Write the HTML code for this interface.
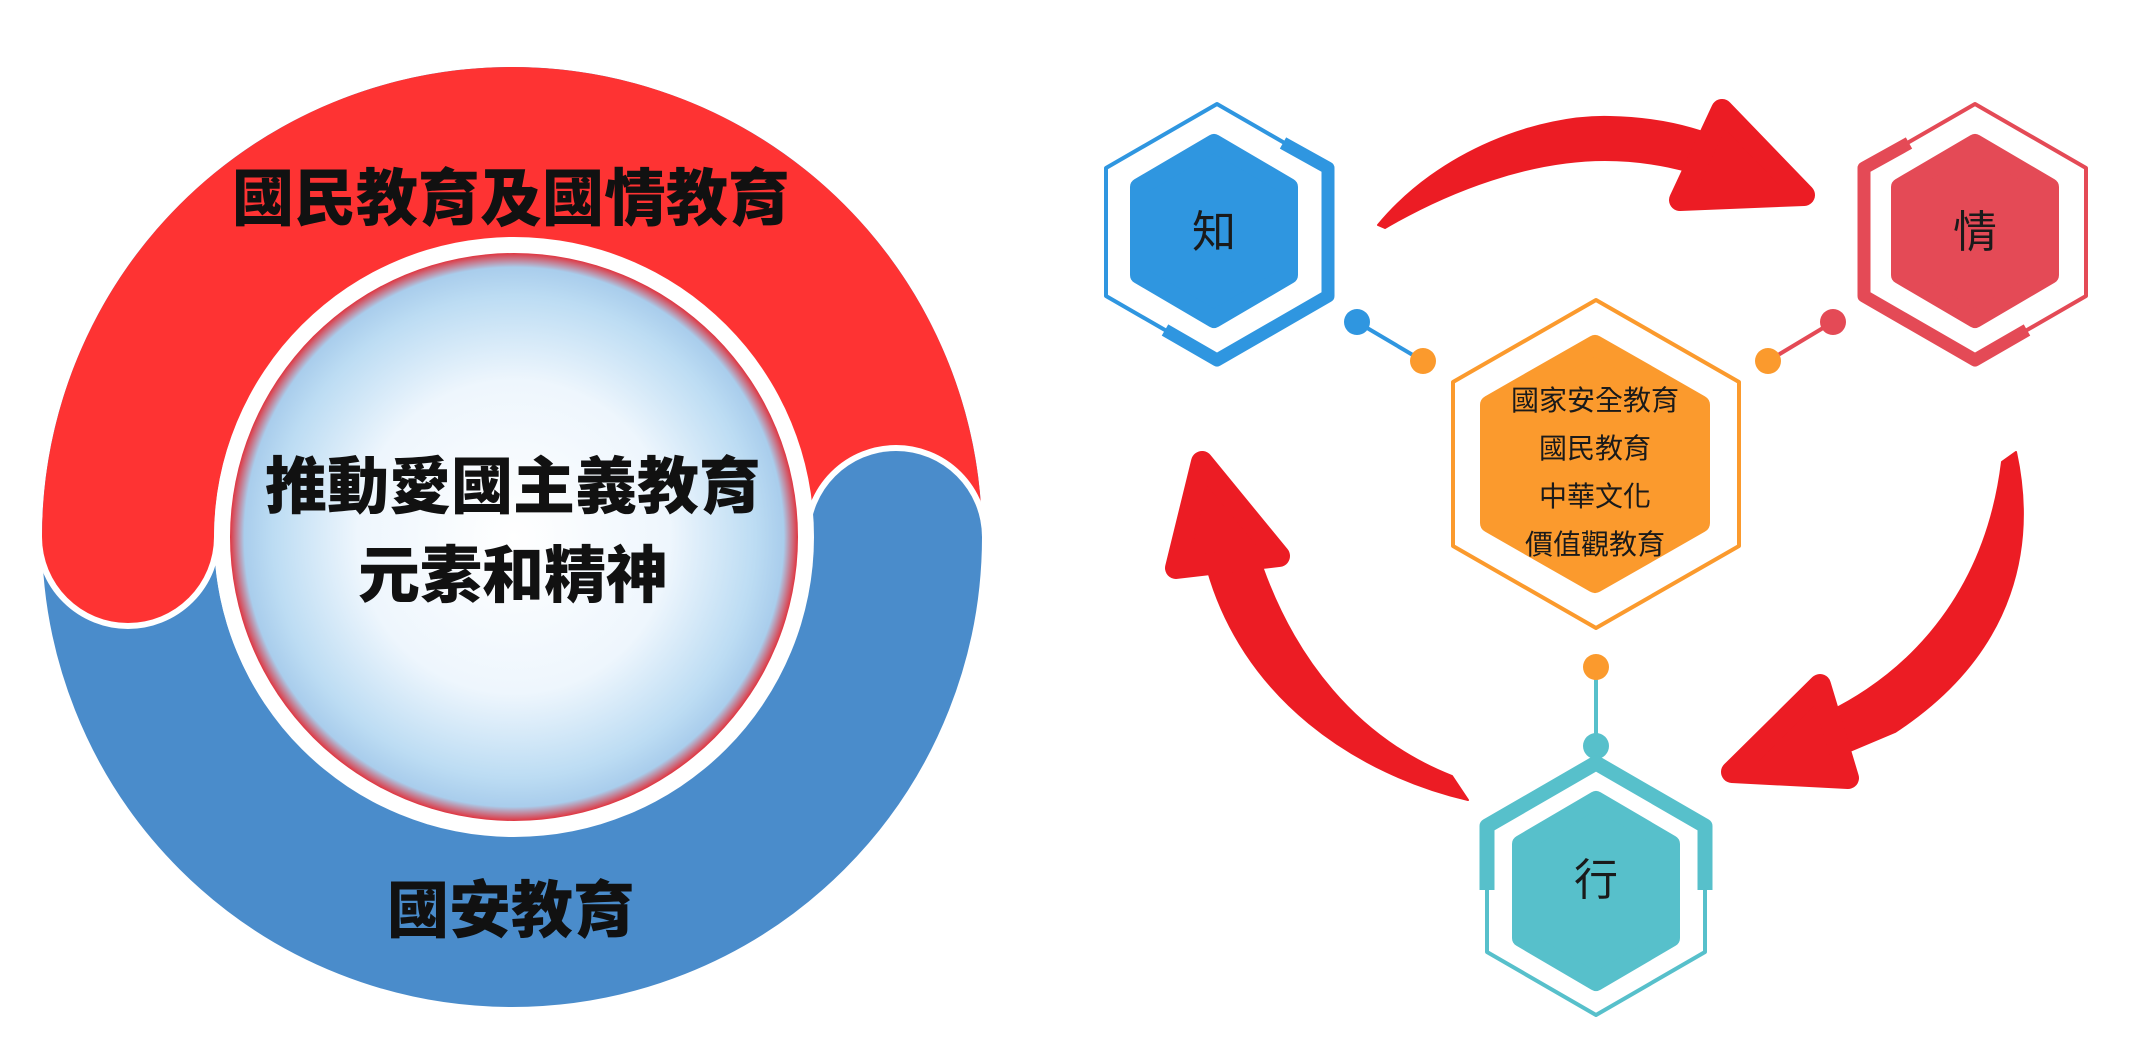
<!DOCTYPE html>
<html><head><meta charset="utf-8"><style>
html,body{margin:0;padding:0;background:#fff;}
svg{display:block;}
.b{font-family:"Liberation Sans","Noto Sans CJK TC","Noto Sans CJK SC",sans-serif;font-weight:900;fill:#111;}
.r{font-family:"Liberation Sans","Noto Sans CJK TC","Noto Sans CJK SC",sans-serif;font-weight:400;fill:#1a1a1a;}
</style></head><body>
<svg width="2147" height="1043" viewBox="0 0 2147 1043" xmlns="http://www.w3.org/2000/svg">
<defs>
<radialGradient id="ig" cx="50%" cy="50%" r="50%">
<stop offset="0" stop-color="#ffffff"/>
<stop offset="0.55" stop-color="#eef6fd"/>
<stop offset="0.85" stop-color="#bcdcf3"/>
<stop offset="0.95" stop-color="#a9cdec"/>
<stop offset="1" stop-color="#e03540"/>
</radialGradient>
</defs>
<!-- LEFT DIAGRAM -->
<circle cx="512" cy="537" r="384" fill="none" stroke="#4a8ccb" stroke-width="172"/>
<!-- red top band -->
<path d="M42,537 A470,470 0 0 1 982,537 L810,537 A298,298 0 0 0 214,537 Z" fill="#fe3333"/>
<!-- red left cap (lower half-disc) with white outline -->
<path d="M42,537 A86,86 0 0 0 214,537" fill="none" stroke="#fff" stroke-width="12"/>
<path d="M42,537 A86,86 0 0 0 214,537 Z" fill="#fe3333"/>
<!-- blue right cap (upper half-disc) with white outline -->
<path d="M810,537 A86,86 0 0 1 982,537" fill="none" stroke="#fff" stroke-width="12"/>
<path d="M810,537 A86,86 0 0 1 982,537 Z" fill="#4a8ccb"/>
<rect x="800" y="537" width="10" height="8" fill="#fff"/>
<!-- inner -->
<circle cx="514" cy="537" r="300" fill="#fff"/>
<circle cx="514" cy="537" r="284" fill="url(#ig)"/>
<text class="b" x="511" y="220" font-size="62" text-anchor="middle">國民教育及國情教育</text>
<text class="b" x="513" y="508" font-size="62" text-anchor="middle">推動愛國主義教育</text>
<text class="b" x="513" y="597" font-size="62" text-anchor="middle">元素和精神</text>
<text class="b" x="511" y="932" font-size="62" text-anchor="middle">國安教育</text>

<!-- RIGHT DIAGRAM: arrows -->
<g fill="#ec1c24" stroke="#ec1c24" stroke-linejoin="round">
<path stroke-width="2" d="M1378,225 C1440,150 1540,115 1610,117 C1660,118 1700,128 1735,145 L1720,182 C1690,170 1650,160 1605,160 C1530,160 1450,190 1385,228 Z"/>
<polygon stroke-width="22" points="1722,110 1804,195 1680,200"/>
<path stroke-width="2" d="M2016,452 C2035,540 2020,650 1895,732 L1800,772 L1790,728 C1900,690 1985,600 2002,462 Z"/>
<polygon stroke-width="22" points="1820,685 1848,778 1732,772"/>
<path stroke-width="2" d="M1468,800 C1360,775 1240,700 1205,560 L1255,545 C1290,660 1360,740 1452,776 Z"/>
<polygon stroke-width="22" points="1202,462 1176,568 1279,556"/>
</g>

<!-- connectors -->
<line x1="1357" y1="322" x2="1423" y2="361" stroke="#2f96e0" stroke-width="4"/>
<circle cx="1357" cy="322" r="13" fill="#2f96e0"/>
<circle cx="1423" cy="361" r="13" fill="#fb9a2d"/>
<line x1="1768" y1="361" x2="1833" y2="322" stroke="#e44a56" stroke-width="4"/>
<circle cx="1833" cy="322" r="13" fill="#e44a56"/>
<circle cx="1768" cy="361" r="13" fill="#fb9a2d"/>
<line x1="1596" y1="667" x2="1596" y2="746" stroke="#57c0cb" stroke-width="4"/>
<circle cx="1596" cy="667" r="13" fill="#fb9a2d"/>
<circle cx="1596" cy="746" r="13" fill="#57c0cb"/>

<!-- 知 hexagon -->
<g fill="none" stroke="#2f96e0" stroke-linejoin="round">
<polygon stroke-width="4" points="1217,104 1328,168 1328,296 1217,360 1106,296 1106,168"/>
<polyline stroke-width="13" points="1283,143 1328,168 1328,296 1217,360 1165,330"/>
</g>
<polygon points="1214,143 1289,187 1289,275 1214,319 1139,275 1139,187" fill="#2f96e0" stroke="#2f96e0" stroke-width="18" stroke-linejoin="round"/>
<text class="r" x="1214" y="247" font-size="44" text-anchor="middle">知</text>

<!-- 情 hexagon -->
<g fill="none" stroke="#e44a56" stroke-linejoin="round">
<polygon stroke-width="4" points="1975,104 2086,168 2086,296 1975,360 1864,296 1864,168"/>
<polyline stroke-width="13" points="1909,143 1864,168 1864,296 1975,360 2027,330"/>
</g>
<polygon points="1975,143 2050,187 2050,275 1975,319 1900,275 1900,187" fill="#e44a56" stroke="#e44a56" stroke-width="18" stroke-linejoin="round"/>
<text class="r" x="1975" y="247" font-size="44" text-anchor="middle">情</text>

<!-- center orange hexagon -->
<polygon points="1596,300 1739,382 1739,546 1596,628 1453,546 1453,382" fill="none" stroke="#fb9a2d" stroke-width="4" stroke-linejoin="round"/>
<polygon points="1595,345 1700,405 1700,523 1595,583 1490,523 1490,405" fill="#fb9a2d" stroke="#fb9a2d" stroke-width="20" stroke-linejoin="round"/>
<text class="r" x="1595" y="410" font-size="28" text-anchor="middle">國家安全教育</text>
<text class="r" x="1595" y="458" font-size="28" text-anchor="middle">國民教育</text>
<text class="r" x="1595" y="506" font-size="28" text-anchor="middle">中華文化</text>
<text class="r" x="1595" y="554" font-size="28" text-anchor="middle">價值觀教育</text>

<!-- 行 hexagon -->
<g fill="none" stroke="#57c0cb" stroke-linejoin="round">
<polygon stroke-width="4" points="1596,763 1705,826 1705,952 1596,1015 1487,952 1487,826"/>
<polyline stroke-width="15" points="1487,890 1487,826 1596,763 1705,826 1705,890"/>
</g>
<polygon points="1596,800 1671,844 1671,938 1596,982 1521,938 1521,844" fill="#57c0cb" stroke="#57c0cb" stroke-width="18" stroke-linejoin="round"/>
<text class="r" x="1596" y="895" font-size="44" text-anchor="middle">行</text>
</svg>
</body></html>
